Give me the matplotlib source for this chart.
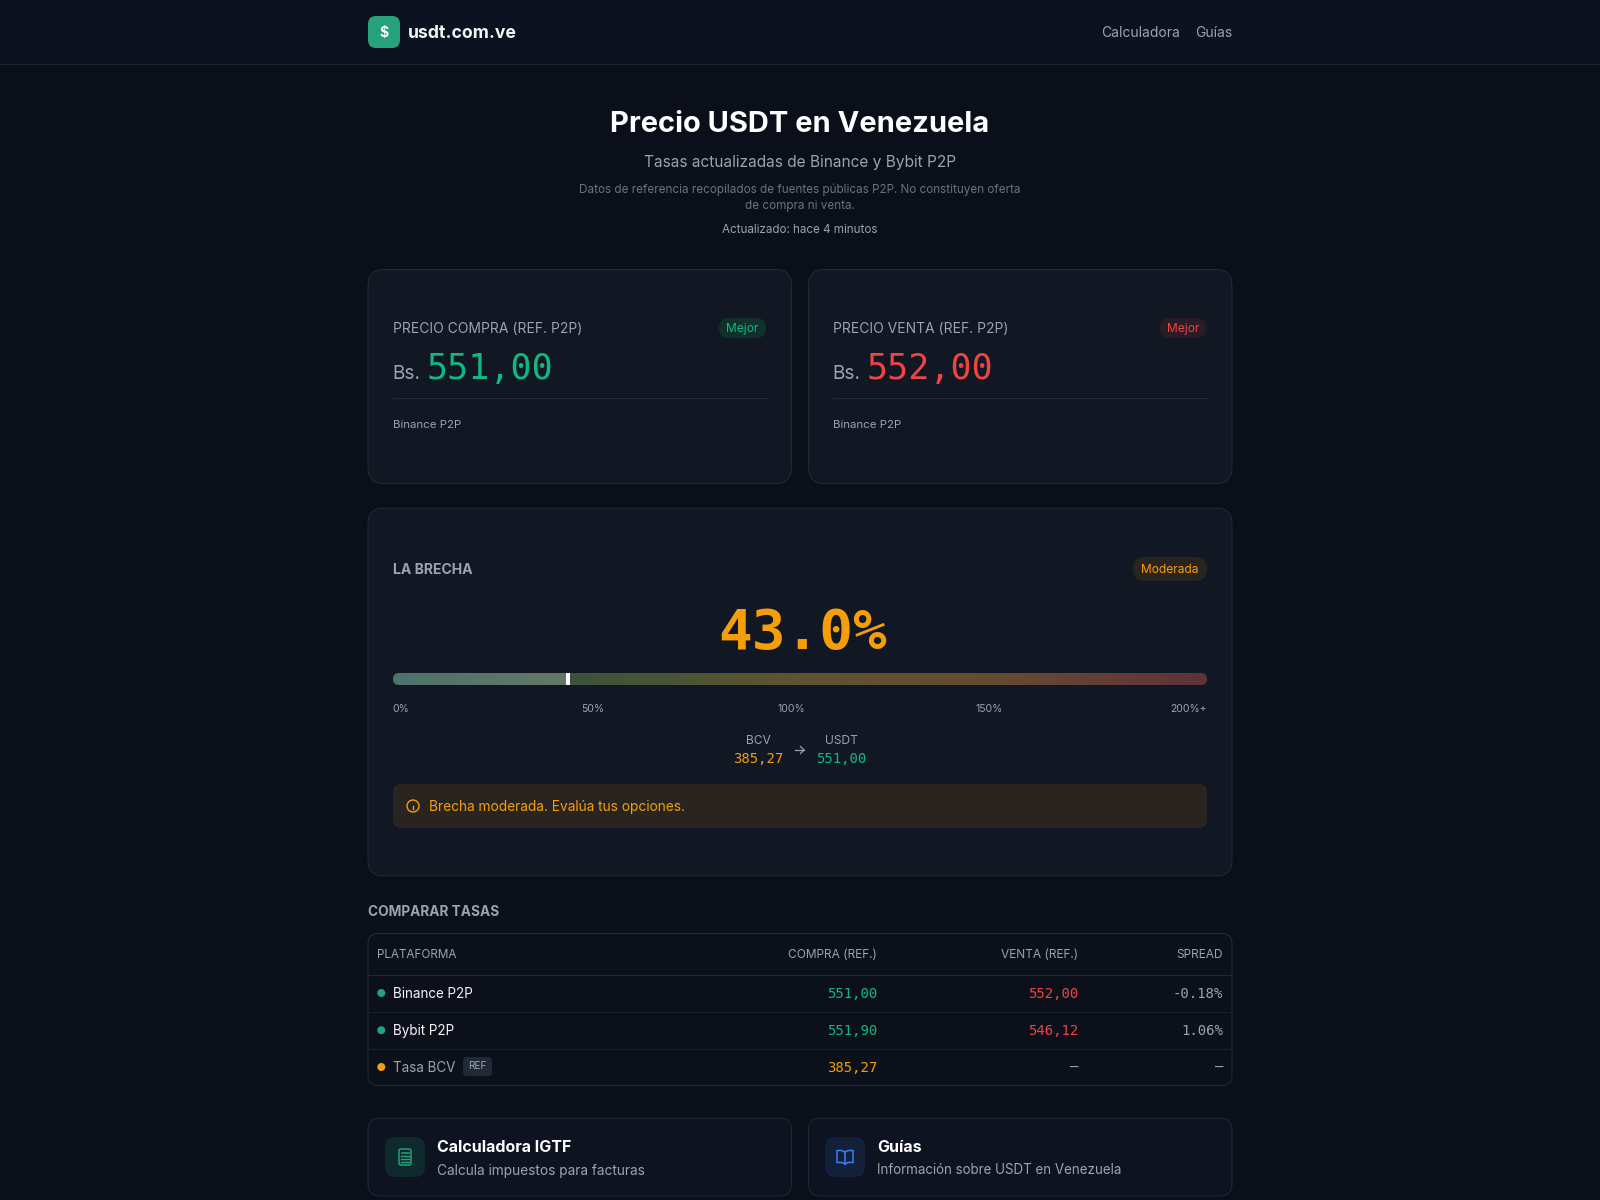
import numpy as np
import matplotlib
matplotlib.use("Agg")
import matplotlib.pyplot as plt
from matplotlib.colors import LinearSegmentedColormap
from matplotlib.patches import FancyBboxPatch, Circle, Rectangle

# Datos de la página
site = 'usdt.com.ve'
nav_links = ['Calculadora', 'Guías']
buy_price = '551,00'
sell_price = '552,00'
source = 'Binance P2P'
gap_pct = 43.0
gauge_max = 200
gauge_labels = ['0%', '50%', '100%', '150%', '200%+']
bcv_rate = '385,27'

platforms = ['Binance P2P', 'Bybit P2P', 'Tasa BCV']
compra = ['551,00', '551,90', '385,27']
venta = ['552,00', '546,12', '—']
spread = ['-0.18%', '1.06%', '—']
table_cols = ['PLATAFORMA', 'COMPRA (REF.)', 'VENTA (REF.)', 'SPREAD']

# Colores
BG = '#0a0f19'
HEADER = '#0c121f'
CARD = '#111723'
LINE = '#232936'
GRAY = '#9ca3af'
DIM = '#6b7280'
GREEN = '#10b981'
RED = '#ef4444'
AMBER = '#f59e0b'
TETHER = '#26a17b'

SANS = 'Inter'
MONO = 'DejaVu Sans Mono'

fig = plt.figure(figsize=(16, 12), dpi=100, facecolor=BG)
ax = fig.add_axes([0, 0, 1, 1])
ax.set_xlim(0, 1600)
ax.set_ylim(1200, 0)
ax.axis('off')


def txt(x, y, s, size, color=GRAY, ha='left', va='center', weight='normal', family=SANS):
    # size en px, la figura va a 100 dpi
    if va == 'center':
        y = y + 1
    return ax.text(x, y, s, fontsize=size * 0.72, color=color, ha=ha, va=va,
                   fontweight=weight, family=family)


def box(x0, y0, x1, y1, r, fc, ec='none', lw=1.0, z=1):
    p = FancyBboxPatch((x0, y0), x1 - x0, y1 - y0, boxstyle=f'round,pad=0,rounding_size={r}',
                       fc=fc, ec=ec, lw=lw * 0.72, zorder=z)
    ax.add_patch(p)
    return p


# Cabecera
ax.add_patch(Rectangle((0, 0), 1600, 64, fc=HEADER, ec='none', zorder=0))
ax.plot([0, 1600], [64, 64], color='#1f2633', lw=0.8)
box(368, 16, 400, 48, 8, TETHER)
txt(384, 31.5, '$', 14, 'white', ha='center', weight='bold')
txt(408, 32, site, 17.6, '#f3f4f6', weight='bold')
txt(1180, 32, nav_links[0], 13.9, GRAY, ha='right')
txt(1232, 32, nav_links[1], 13.9, GRAY, ha='right')

# Titulos
txt(800, 123.5, 'Precio USDT en Venezuela', 29.1, 'white', ha='center', weight='bold')
txt(800, 161, 'Tasas actualizadas de Binance y Bybit P2P', 15.45, GRAY, ha='center')
txt(800, 189, 'Datos de referencia recopilados de fuentes públicas P2P. No constituyen oferta', 11.7, DIM, ha='center')
txt(800, 205, 'de compra ni venta.', 11.7, DIM, ha='center')
txt(800, 229, 'Actualizado: hace 4 minutos', 11.65, GRAY, ha='center')

# Tarjetas de precio
for x0, xt, label, price, col, badge_bg in [(368, 393, 'PRECIO COMPRA (REF. P2P)', buy_price, GREEN, '#10302c'),
                                            (808.5, 833, 'PRECIO VENTA (REF. P2P)', sell_price, RED, '#2b1b24')]:
    box(x0, 269.5, x0 + 423.5, 483.5, 16, CARD, LINE)
    txt(xt, 328, label, 13.9)
    box(x0 + 351, 318, x0 + 398, 338, 10, badge_bg)
    txt(x0 + 374.5, 328, 'Mejor', 12, col, ha='center')
    txt(xt - 1, 379, 'Bs.', 19, GRAY, va='baseline')
    txt(xt + 34, 379, price, 35, col, va='baseline', family=MONO)
    ax.plot([xt, xt + 374], [398, 398], color=LINE, lw=0.8, zorder=2)
    txt(xt, 424, source, 11.5)

# La brecha
box(368, 508, 1232, 876, 16, CARD, LINE)
txt(393, 569.5, 'LA BRECHA', 14, GRAY, weight='bold')
box(1133, 557, 1207, 581, 12, '#2a2420')
txt(1170, 569, 'Moderada', 12, AMBER, ha='center')
txt(802.5, 649, f'{gap_pct:.1f}%', 56, AMBER, ha='center', va='baseline', weight='bold', family=MONO)

# Barra de la brecha
gx0, gx1, gy0, gy1 = 393, 1207, 673, 685
cmap = LinearSegmentedColormap.from_list('brecha', ['#1c4c44', '#3f5439', '#5e5430', '#664a33', '#5e3339'])
clip = box(gx0, gy0, gx1, gy1, 6, 'none')
mx = gx0 + (gx1 - gx0) * gap_pct / gauge_max
im = ax.imshow(np.linspace(0, 1, 400).reshape(1, -1), extent=[gx0, gx1, gy1, gy0], cmap=cmap,
               aspect='auto', zorder=2)
im.set_clip_path(clip)
over = Rectangle((gx0, gy0), mx - gx0, gy1 - gy0, fc='white', alpha=0.22, ec='none', zorder=3)
ax.add_patch(over)
over.set_clip_path(clip)
ax.add_patch(Rectangle((mx - 2, gy0), 4, gy1 - gy0, fc='white', ec='none', zorder=4))
ax.set_xlim(0, 1600)
ax.set_ylim(1200, 0)

for x, lab in zip([392.5, 581.5, 777, 976], gauge_labels):
    txt(x, 707.5, lab, 10.5, GRAY)
txt(1207, 707.5, gauge_labels[-1], 10.5, GRAY, ha='right')

# BCV -> USDT
txt(758.5, 739.5, 'BCV', 12, GRAY, ha='center')
txt(841, 739.5, 'USDT', 12, GRAY, ha='center')
txt(758.5, 758, bcv_rate, 14, AMBER, ha='center', family=MONO)
txt(841, 758, buy_price, 14, GREEN, ha='center', family=MONO)
ax.plot([795, 804], [750, 750], color=GRAY, lw=0.9, zorder=3)
ax.plot([800.5, 804, 800.5], [746.5, 750, 753.5], color=GRAY, lw=0.9, zorder=3)

# Aviso
box(393, 784, 1207, 828, 8, '#2a2420', z=2)
ax.add_patch(Circle((413, 806), 6, fc='none', ec=AMBER, lw=1.0, zorder=3))
ax.plot([413, 413], [805.5, 809], color=AMBER, lw=1.0, zorder=3)
ax.plot([413, 413], [802.8, 803.4], color=AMBER, lw=1.0, zorder=3)
txt(429, 805.5, 'Brecha moderada. Evalúa tus opciones.', 13.7, AMBER).set_zorder(3)

# Tabla
txt(368, 910.5, 'COMPARAR TASAS', 13.7, GRAY, weight='bold')
box(368, 933.5, 1232, 1085.5, 10, '#0b101b', LINE)
for y in [974.5, 1011.5, 1048.5]:
    ax.plot([368, 1232], [y, y], color=LINE if y == 974.5 else '#1a202c', lw=0.8, zorder=2)
col_right = [877, 1078, 1223]
txt(377, 953.5, table_cols[0], 11.7)
for x, lab in zip(col_right, table_cols[1:]):
    txt(x, 953.5, lab, 11.9, ha='right')

row_y = [992.5, 1029.7, 1066.5]
for i, name in enumerate(platforms):
    y = row_y[i]
    is_ref = name == 'Tasa BCV'
    ax.add_patch(Circle((381.3, y + 0.5), 4, fc=AMBER if is_ref else TETHER, ec='none', zorder=3))
    txt(393, y, name, 13.5, GRAY if is_ref else '#f3f4f6')
    txt(col_right[0], y, compra[i], 14, AMBER if is_ref else GREEN, ha='right', family=MONO)
    txt(col_right[1], y, venta[i], 14, GRAY if venta[i] == '—' else RED, ha='right', family=MONO)
    txt(col_right[2], y, spread[i], 14, GRAY, ha='right', family=MONO)
box(463, 1057, 492, 1076, 4, '#1f2937', z=2)
txt(477.5, 1065, 'REF', 10, GRAY, ha='center')

# Enlaces
box(368, 1118, 791.5, 1196, 12, '#0d1320', LINE)
box(808.5, 1118, 1232, 1196, 12, '#0d1320', LINE)
box(385, 1137, 425, 1177, 10, '#0f2a2c', z=2)
box(825, 1137, 865, 1177, 10, '#13203a', z=2)
txt(437, 1146, 'Calculadora IGTF', 16, 'white', weight='bold')
txt(437, 1169.5, 'Calcula impuestos para facturas', 13.7)
txt(877, 1146, 'Guías', 16, 'white', weight='bold')
txt(877, 1169.5, 'Información sobre USDT en Venezuela', 13.35)

# Icono calculadora
box(399, 1149, 411, 1165, 2, 'none', TETHER, lw=1.5, z=3)
ax.plot([401.5, 408.5], [1152.5, 1152.5], color=TETHER, lw=1.1, zorder=3)
for yy in [1156, 1159, 1162]:
    for xx in [402, 405, 408]:
        ax.plot([xx - 0.6, xx + 0.6], [yy, yy], color=TETHER, lw=1.0, zorder=3)

# Icono libro
BLUE = '#3b82f6'
ax.plot([845, 845], [1152, 1164], color=BLUE, lw=1.1, zorder=3)
ax.plot([845, 842, 837, 837, 842, 845], [1152, 1150.5, 1150.5, 1162.5, 1162.5, 1164], color=BLUE, lw=1.1, zorder=3)
ax.plot([845, 848, 853, 853, 848, 845], [1152, 1150.5, 1150.5, 1162.5, 1162.5, 1164], color=BLUE, lw=1.1, zorder=3)

fig.savefig('out.png', dpi=100, facecolor=BG)
